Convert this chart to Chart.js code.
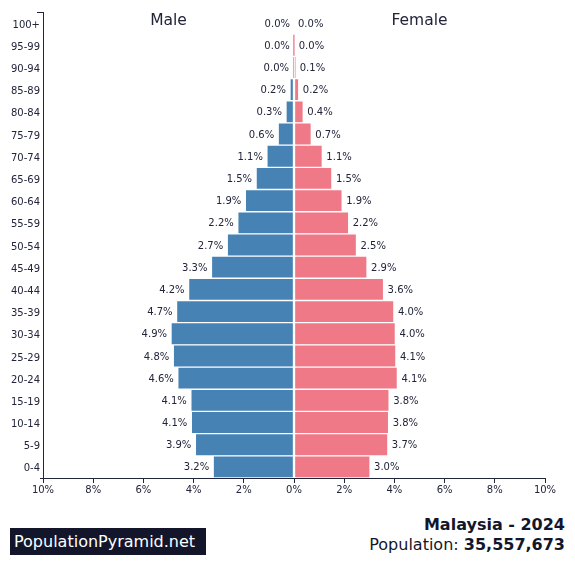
<!DOCTYPE html>
<html>
<head>
<meta charset="utf-8">
<script src="https://cdn.jsdelivr.net/npm/chart.js@4"></script>
<style>
  body { margin: 0; background: #fff; font-family: "DejaVu Sans", sans-serif; }
  .wrap { position: relative; width: 575px; height: 581px; }
  #chart { position: absolute; left: 0; top: 0; }
  .brand { position: absolute; left: 10px; top: 528px; width: 196px; height: 27px; background: #13162b;
           color: #fff; font-size: 16px; line-height: 27px; padding-left: 4px; box-sizing: border-box; }
  .info { position: absolute; right: 10px; top: 515px; text-align: right; color: #13162b; font-size: 16px; line-height: 20px; }
  .info b { font-weight: bold; }
</style>
</head>
<body>
<div class="wrap">
  <canvas id="chart" width="575" height="500"></canvas>
  <div class="brand">PopulationPyramid.net</div>
  <div class="info"><b>Malaysia - 2024</b><br>Population: <b>35,557,673</b></div>
</div>
<script>
  // top row first
  const ages = ['100+', '95-99', '90-94', '85-89', '80-84', '75-79', '70-74', '65-69', '60-64', '55-59', '50-54',
    '45-49', '40-44', '35-39', '30-34', '25-29', '20-24', '15-19', '10-14', '5-9', '0-4'];
  const male = [0.00, 0.01, 0.04, 0.16, 0.32, 0.63, 1.08, 1.51, 1.94, 2.24, 2.66,
    3.29, 4.20, 4.68, 4.90, 4.81, 4.63, 4.11, 4.09, 3.93, 3.22];
  const female = [0.00, 0.03, 0.07, 0.19, 0.37, 0.69, 1.13, 1.51, 1.92, 2.18, 2.49,
    2.91, 3.57, 3.98, 4.04, 4.06, 4.12, 3.79, 3.77, 3.74, 3.03];
  const xTicks = [-10, -8, -6, -4, -2, 0, 2, 4, 6, 8, 10];

  const blue = '#4682b4';
  const pink = '#ef7987';
  const ink = '#22243a';

  const labelPlugin = {
    id: 'pyrLabels',
    afterDatasetsDraw(chart) {
      const ctx = chart.ctx;
      const area = chart.chartArea;
      ctx.save();
      ctx.font = '10px "DejaVu Sans"';
      ctx.fillStyle = ink;
      ctx.textBaseline = 'middle';
      chart.data.datasets.forEach((ds, i) => {
        chart.getDatasetMeta(i).data.forEach((bar, j) => {
          const v = Math.abs(ds.data[j]).toFixed(1) + '%';
          if (i === 0) {
            ctx.textAlign = 'right';
            ctx.fillText(v, bar.x - 4, bar.y + 1);
          } else {
            ctx.textAlign = 'left';
            ctx.fillText(v, bar.x + 4, bar.y + 1);
          }
        });
      });
      ctx.font = '15.5px "DejaVu Sans"';
      ctx.textAlign = 'center';
      ctx.fillText('Male', area.left + (area.right - area.left) * 0.25, 21);
      ctx.fillText('Female', area.left + (area.right - area.left) * 0.75, 21);
      // outer ticks at the axis ends
      ctx.strokeStyle = ink;
      ctx.lineWidth = 1;
      ctx.beginPath();
      ctx.moveTo(area.left - 6, area.top + 0.5);
      ctx.lineTo(area.left, area.top + 0.5);
      ctx.moveTo(area.left - 3, area.bottom + 0.5);
      ctx.lineTo(area.left, area.bottom + 0.5);
      ctx.stroke();
      ctx.restore();
    }
  };

  new Chart(document.getElementById('chart'), {
    type: 'bar',
    data: {
      labels: ages,
      datasets: [
        { label: 'Male', data: male.map(v => -v), backgroundColor: blue,
          borderColor: 'rgba(255,255,255,0.7)', borderWidth: 1, borderSkipped: false },
        { label: 'Female', data: female, backgroundColor: pink,
          borderColor: 'rgba(255,255,255,0.7)', borderWidth: 1, borderSkipped: false }
      ]
    },
    options: {
      indexAxis: 'y',
      responsive: false,
      animation: false,
      layout: { padding: { top: 12, right: 30, left: 0, bottom: 0 } },
      plugins: { legend: { display: false }, tooltip: { enabled: false } },
      scales: {
        x: {
          min: -10, max: 10,
          afterBuildTicks(axis) { axis.ticks = xTicks.map(v => ({ value: v })); },
          afterFit(axis) { axis.height = 22; },
          border: { color: ink, width: 1 },
          grid: { drawOnChartArea: false, drawTicks: true, tickLength: 5, color: ink },
          ticks: { color: ink, font: { size: 10, family: 'DejaVu Sans' }, padding: 1,
            callback: v => Math.abs(v) + '%' }
        },
        y: {
          stacked: true,
          afterFit(axis) { axis.width = 43; },
          border: { color: ink, width: 1 },
          grid: { display: false, drawTicks: false },
          ticks: { color: ink, font: { size: 10, family: 'DejaVu Sans' }, padding: 3, labelOffset: 2 }
        }
      },
      datasets: { bar: { barPercentage: 1, categoryPercentage: 1 } }
    },
    plugins: [labelPlugin]
  });
</script>
</body>
</html>
